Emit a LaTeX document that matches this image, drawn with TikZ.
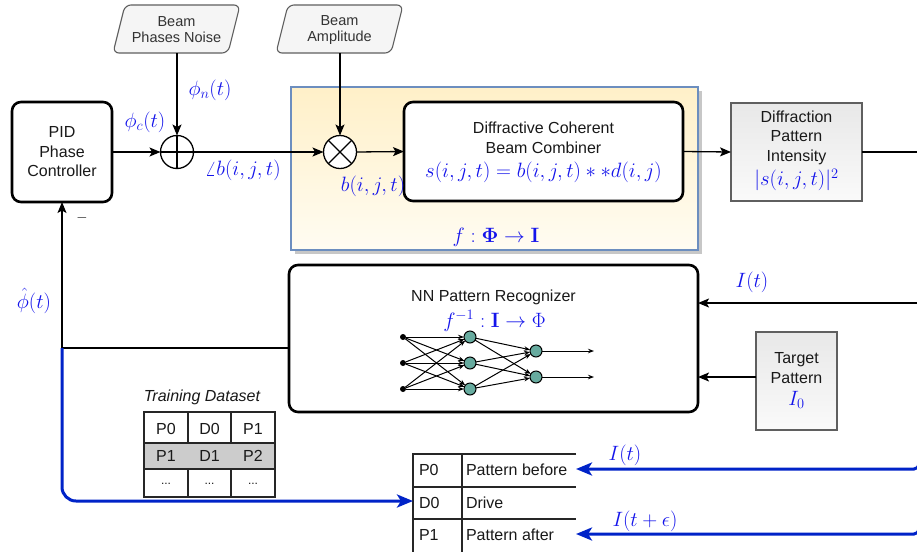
\documentclass[tikz,border=0pt]{standalone}
\usepackage{amsmath}
\usepackage[no-math]{fontspec}
\setmainfont{Liberation Sans}
\usetikzlibrary{arrows.meta,calc}
\definecolor{mblue}{RGB}{20,20,235}
\definecolor{lblue}{RGB}{0,35,200}
\definecolor{ybord}{RGB}{108,142,191}
\definecolor{gbord}{RGB}{95,95,95}
\definecolor{tealn}{RGB}{103,171,159}
\definecolor{ytop}{RGB}{255,240,200}
\definecolor{ybot}{RGB}{255,252,242}
\newcommand{\msz}{\fontsize{20}{23}\selectfont}
\begin{document}
\begin{tikzpicture}[x=1pt,y=-1pt,
  every node/.style={inner sep=0pt,outer sep=0pt},
  txt/.style={font=\fontsize{16}{19.5}\selectfont,align=center,text=black!90},
  btxt/.style={font=\fontsize{14.5}{16}\selectfont,align=center,text=black!80},
  mth/.style={font=\msz,text=mblue},
  thickbox/.style={draw,line width=2.6pt,rounded corners=9pt,fill=white},
  graybox/.style={draw=gbord,line width=1.4pt,top color=black!9,bottom color=black!2},
  paral/.style={draw=gbord,line width=1.1pt,fill=black!4,rounded corners=6pt},
  conn/.style={line width=1.3pt,-{Stealth[length=11pt,width=9pt,inset=2.5pt]}},
  plain/.style={line width=1.3pt},
  bconn/.style={line width=3pt,draw=lblue,-{Stealth[length=16pt,width=13pt,inset=4pt]}},
  opnode/.style={circle,draw,line width=1.3pt,minimum size=33pt,fill=white},
  tline/.style={line width=1.2pt,draw=black!85},
  nnarrow/.style={line width=1pt,-{Stealth[length=6pt,width=4.5pt]}},
]
\useasboundingbox (0,0) rectangle (917,552);
\fill[white] (0,0) rectangle (917,552);

% ---- yellow container
\fill[black!22] (295,91) rectangle (702,254);
\node[draw=ybord,line width=1.5pt,top color=ytop,bottom color=ybot,
      minimum width=407pt,minimum height=163pt] (fbox) at (494.5,168.5) {};
\node[mth] (flab) at (496,237) {$f:\mathbf{\Phi}\rightarrow\mathbf{I}$};

% ---- input parallelograms
\draw[paral] (113,53) -- (125,5) -- (240,5) -- (228,53) -- cycle;
\node[btxt] (bpn) at (176.5,30) {Beam\\Phases Noise};
\coordinate (bpnb) at (177,53);
\draw[paral] (276,53) -- (288,5) -- (403,5) -- (391,53) -- cycle;
\node[btxt] (ba) at (339.5,30) {Beam\\Amplitude};
\coordinate (bab) at (340,53);

% ---- main row
\node[thickbox,txt,minimum width=100pt,minimum height=100pt] (pid) at (62,152) {PID\\Phase\\Controller};
\node[opnode] (sum) at (177,152) {};
\draw[line width=1.3pt] (sum.north) -- (sum.south) (sum.west) -- (sum.east);
\node[opnode] (prod) at (340,152) {};
\draw[line width=1.3pt] (prod.north west) -- (prod.south east) (prod.north east) -- (prod.south west);

\node[thickbox,minimum width=279pt,minimum height=99pt] (comb) at (543.5,151.5) {};
\node[txt] (combt) at (543.5,138) {Diffractive Coherent\\Beam Combiner};
\node[mth] (combm) at (543.5,172) {$s(i,j,t)=b(i,j,t)\ast\ast d(i,j)$};

\node[graybox,minimum width=131pt,minimum height=98pt] (diff) at (796.5,152) {};
\node[txt] (difft) at (796.5,137.5) {Diffraction\\Pattern\\Intensity};
\node[mth] (diffm) at (796.5,180) {$|s(i,j,t)|^2$};

\draw[conn] (pid.east) -- (sum.west);
\node[mth] (phic) at (145,122) {$\phi_c(t)$};
\draw[conn] (bpnb) -- (sum.north);
\node[mth] (phin) at (210,90) {$\phi_n(t)$};
\draw[conn] (sum.east) -- (prod.west);
\node[mth] (angb) at (243,170) {$\angle b(i,j,t)$};
\draw[conn] (bab) -- (prod.north);
\draw[conn] (prod.east) -- (comb.west);
\node[mth] (blab) at (373,186) {$b(i,j,t)$};
\draw[conn] (comb.east) -- (diff.west);
\coordinate (rA) at (917,152);
\draw[plain] (diff.east) -- (rA);

% ---- NN recognizer
\node[thickbox,minimum width=409pt,minimum height=147pt] (nn) at (493.5,338.5) {};
\node[txt] (nnt) at (493.5,297) {NN Pattern Recognizer};
\node[mth] (nnf) at (494.5,321) {$f^{-1}:\mathbf{I}\rightarrow\Phi$};

\foreach \y [count=\k] in {337,363,389} {
  \node[circle,fill=black,minimum size=6pt] (in\k) at (403,\y) {};
  \node[circle,draw,fill=tealn,line width=1pt,minimum size=12pt] (h\k) at (470,\y) {};
}
\node[circle,draw,fill=tealn,line width=1pt,minimum size=12pt] (o1) at (536,351) {};
\node[circle,draw,fill=tealn,line width=1pt,minimum size=12pt] (o2) at (536,377) {};
\foreach \a in {1,2,3} { \foreach \b in {1,2,3} { \draw[nnarrow] (in\a) -- (h\b); } }
\foreach \a in {1,2,3} { \foreach \b in {1,2} { \draw[nnarrow] (h\a) -- (o\b); } }
\coordinate (out1) at (594,351);
\coordinate (out2) at (594,377);
\draw[nnarrow] (o1) -- (out1);
\draw[nnarrow] (o2) -- (out2);

% ---- target
\node[graybox,minimum width=81pt,minimum height=98pt] (targ) at (796.5,381) {};
\node[txt] (targt) at (796.5,368) {Target\\Pattern};
\node[mth] (targm) at (796.5,400) {$I_0$};
\draw[conn] ([yshift=4pt]targ.west) -- ([yshift=4pt]targ.west -| nn.east);

\coordinate (rB) at (917,303);
\draw[conn] (rB) -- (rB -| nn.east);
\node[mth] (it1) at (752,282) {$I(t)$};

% ---- feedback
\coordinate (fj) at (62,348);
\draw[plain] (fj -| nn.west) -- (fj);
\draw[conn] (fj) -- (fj |- pid.south);
\node[font=\fontsize{14}{16}\selectfont] (minus) at (82,218) {$-$};
\node[mth] (phihat) at (34,301) {$\hat{\phi}(t)$};

% ---- training dataset table
\node[txt,font=\fontsize{16}{19.5}\selectfont\itshape] (tdl) at (202,397) {Training Dataset};
\fill[black!20] (144,443) rectangle (275,469);
\draw[tline] (144,412) rectangle (275,497);
\draw[tline] (188,412) -- (188,443) (231,412) -- (231,443) (188,469) -- (188,497) (231,469) -- (231,497);
\draw[tline] (144,443) -- (275,443) (144,469) -- (275,469);
\node[txt] (t11) at (166,429) {P0};
\node[txt] (t12) at (209.5,429) {D0};
\node[txt] (t13) at (253,429) {P1};
\node[txt] (t21) at (166,456) {P1};
\node[txt] (t22) at (209.5,456) {D1};
\node[txt] (t23) at (253,456) {P2};
\node[txt,font=\fontsize{12}{14}\selectfont] (t31) at (166,484) {...};
\node[txt,font=\fontsize{12}{14}\selectfont] (t32) at (209.5,484) {...};
\node[txt,font=\fontsize{12}{14}\selectfont] (t33) at (253,484) {...};

% ---- bottom table
\coordinate (rowP0) at (576,469);
\coordinate (rowD0) at (413,501);
\coordinate (rowP1) at (576,534);
\draw[tline] (576,454) -- (413,454) -- (413,552);
\draw[tline] (462,454) -- (462,552);
\draw[tline] (413,487) -- (576,487) (413,519) -- (576,519);
\node[txt,anchor=west] (b11) at (419,470) {P0};
\node[txt,anchor=west] (b12) at (466,470) {Pattern before};
\node[txt,anchor=west] (b21) at (419,503) {D0};
\node[txt,anchor=west] (b22) at (466,503) {Drive};
\node[txt,anchor=west] (b31) at (419,535) {P1};
\node[txt,anchor=west] (b32) at (466,535) {Pattern after};

\draw[bconn,rounded corners=14pt] (fj) -- (fj |- rowD0) -- (rowD0);

\coordinate (rC) at (919,458);
\coordinate (rD) at (919,523);
\draw[bconn,rounded corners=5pt] (rC) -- ++(0,11) -- (rowP0);
\draw[bconn,rounded corners=5pt] (rD) -- ++(0,11) -- (rowP1);
\node[mth] (it2) at (625,455) {$I(t)$};
\node[mth] (ite) at (645,521) {$I(t+\epsilon)$};
\end{tikzpicture}
\end{document}
